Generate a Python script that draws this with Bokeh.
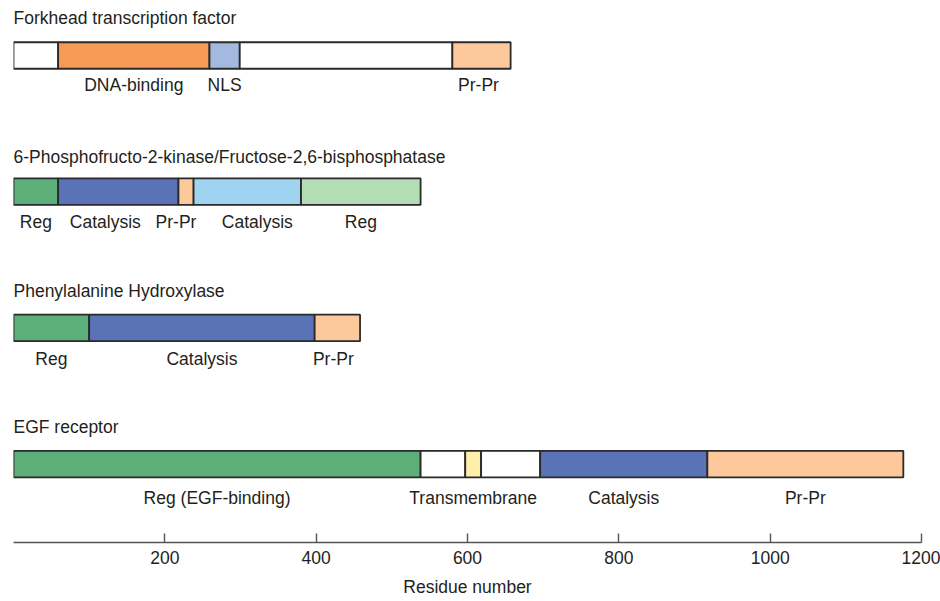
from bokeh.plotting import figure
from bokeh.models import Range1d, FixedTicker, ColumnDataSource
from bokeh.core.properties import value
from bokeh.embed import file_html
from bokeh.resources import INLINE

# ---------------- data (residue numbers) ----------------
PROTEINS = ["Forkhead transcription factor",
            "6-Phosphofructo-2-kinase/Fructose-2,6-bisphosphatase",
            "Phenylalanine Hydroxylase",
            "EGF receptor"]

FOX_BOUNDS = [0, 59, 259, 299, 580, 657]
FOX_LABELS = ["", "DNA-binding", "NLS", "", "Pr-Pr"]

PFK_BOUNDS = [0, 59, 218, 238, 380, 538]
PFK_LABELS = ["Reg", "Catalysis", "Pr-Pr", "Catalysis", "Reg"]

PAH_BOUNDS = [0, 100, 398, 458]
PAH_LABELS = ["Reg", "Catalysis", "Pr-Pr"]

EGFR_BOUNDS = [0, 538, 597, 618, 696, 917, 1176]
EGFR_LABELS = ["Reg (EGF-binding)", "", "Transmembrane", "", "Catalysis", "Pr-Pr"]

X_TICKS = [200, 400, 600, 800, 1000, 1200]
X_MAX = 1200
AXIS_TITLE = "Residue number"

# ---------------- styles ----------------
WHITE = "#FFFFFF"
ORANGE = "#F79A55"
NLS_BLUE = "#A3B9E0"
PEACH = "#FDC89B"
GREEN = "#5CAF78"
BLUE = "#5A73B7"
SKY = "#A0D3F0"
PALE_GREEN = "#B3DDB5"
YELLOW = "#FEEFAA"

FOX_COLORS = [WHITE, ORANGE, NLS_BLUE, WHITE, PEACH]
PFK_COLORS = [GREEN, BLUE, PEACH, SKY, PALE_GREEN]
PAH_COLORS = [GREEN, BLUE, PEACH]
EGFR_COLORS = [GREEN, WHITE, YELLOW, WHITE, BLUE, PEACH]

# label horizontal nudges in pixels (layout only)
FOX_NUDGE = [0, 0, 0, 0, -3]
PFK_NUDGE = [0, -13, -10, 10, 0]
PAH_NUDGE = [0, 0, -4]
EGFR_NUDGE = [0, 0, 0, 0, 0, 0]

FONT = "Liberation Sans"
FS = "17.5px"
TXT = "#231F20"
EDGE = "#2A2A2A"

rows = [(FOX_BOUNDS, FOX_LABELS, FOX_COLORS, FOX_NUDGE),
        (PFK_BOUNDS, PFK_LABELS, PFK_COLORS, PFK_NUDGE),
        (PAH_BOUNDS, PAH_LABELS, PAH_COLORS, PAH_NUDGE),
        (EGFR_BOUNDS, EGFR_LABELS, EGFR_COLORS, EGFR_NUDGE)]

# layout (pixels; y range is set 1:1 with frame pixels, downward)
FRAME_W = 908
FRAME_H = 542
ROW_TOP = 55.0
ROW_GAP = 136.2
BAR_H = 26.5
TITLE_GAP = [38, 35, 37, 37]
LABEL_GAP = [29.5, 30.5, 31, 34]

p = figure(frame_width=FRAME_W, frame_height=FRAME_H,
           x_range=Range1d(0, X_MAX), y_range=Range1d(FRAME_H, 0),
           output_backend="svg", toolbar_location=None,
           y_axis_location=None,
           min_border_left=13, min_border_right=19,
           min_border_top=0, min_border_bottom=0,
           outline_line_color=None, background_fill_color="white",
           border_fill_color="white")
p.xgrid.visible = False
p.ygrid.visible = False

bar = dict(left=[], right=[], y=[], color=[])
lab = dict(x=[], y=[], text=[], dx=[])
tit = dict(x=[], y=[], text=[])
for i, (bounds, labels, colors, nudge) in enumerate(rows):
    yc = ROW_TOP + i * ROW_GAP
    tit["x"].append(0)
    tit["y"].append(yc - TITLE_GAP[i])
    tit["text"].append(PROTEINS[i])
    for j in range(len(labels)):
        bar["left"].append(bounds[j])
        bar["right"].append(bounds[j + 1])
        bar["y"].append(yc)
        bar["color"].append(colors[j])
        if labels[j]:
            lab["x"].append((bounds[j] + bounds[j + 1]) / 2)
            lab["y"].append(yc + LABEL_GAP[i])
            lab["text"].append(labels[j])
            lab["dx"].append(nudge[j])

p.hbar(y="y", left="left", right="right", height=BAR_H, fill_color="color",
       line_color=EDGE, line_width=1.8, source=ColumnDataSource(bar))

p.text(x="x", y="y", text="text", source=ColumnDataSource(tit),
       text_font=value(FONT), text_font_size=FS, text_color=TXT,
       text_align="left", text_baseline="middle")
p.text(x="x", y="y", text="text", x_offset="dx", source=ColumnDataSource(lab),
       text_font=value(FONT), text_font_size=FS, text_color=TXT,
       text_align="center", text_baseline="middle")

ax = p.xaxis[0]
ax.ticker = FixedTicker(ticks=X_TICKS)
ax.axis_line_color = "#555555"
ax.axis_line_width = 1.6
ax.major_tick_line_color = "#555555"
ax.major_tick_line_width = 1.4
ax.major_tick_in = 9
ax.major_tick_out = 0
ax.minor_tick_line_color = None
ax.major_label_text_font = FONT
ax.major_label_text_font_size = FS
ax.major_label_text_color = TXT
ax.major_label_standoff = 8
ax.axis_label = AXIS_TITLE
ax.axis_label_text_font = FONT
ax.axis_label_text_font_size = FS
ax.axis_label_text_font_style = "normal"
ax.axis_label_text_color = TXT
ax.axis_label_standoff = 10

open("out.html", "w").write(file_html(p, INLINE))
